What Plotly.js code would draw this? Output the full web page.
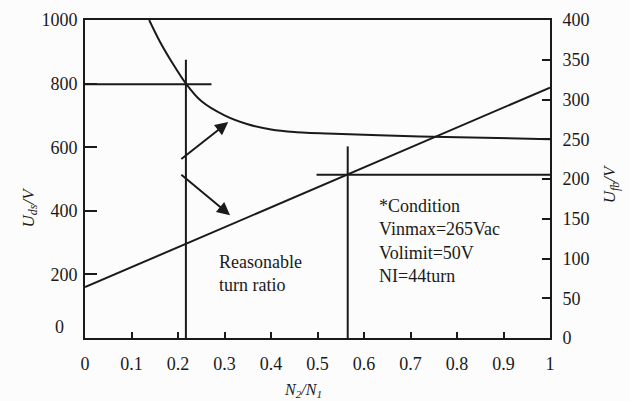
<!DOCTYPE html>
<html>
<head>
<meta charset="utf-8">
<script src="https://cdn.plot.ly/plotly-3.0.1.min.js"></script>
<style>html,body{margin:0;padding:0;background:#fcfcfc;}</style>
</head>
<body>
<div id="chart" style="width:630px;height:401px;"></div>
<script>
// Turn ratio (x) and voltages
const curveRatio = [0.138, 0.16, 0.19, 0.217, 0.25, 0.3, 0.35, 0.4, 0.45, 0.52, 0.72, 1.0];
const curveUds   = [1000, 935, 860, 800, 745, 700, 672, 656, 648, 643, 634, 625];   // left axis
const lineRatio  = [0, 1];
const lineUfb    = [64, 315];                                                  // right axis

// Reference (design point) lines
const refRatio1 = [0.217, 0.217];  const refV1 = [0, 875];      // vertical, left axis
const refHx1    = [0, 0.272];      const refHy1 = [798, 798];   // horizontal, left axis
const refRatio2 = [0.565, 0.565];  const refV2 = [0, 241];      // vertical, right axis
const refHx2    = [0.498, 1];      const refHy2 = [205.5, 205.5]; // horizontal, right axis

const xTicks = [0, 0.1, 0.2, 0.3, 0.4, 0.5, 0.6, 0.7, 0.8, 0.9, 1];
const xTickText = ['0', '0.1', '0.2', '0.3', '0.4', '0.5', '0.6', '0.7', '0.8', '0.9', '1'];
const yTicks = [0, 200, 400, 600, 800, 1000];
const yTickText = ['', '200', '400', '600', '800', '1000'];
const y2Ticks = [0, 50, 100, 150, 200, 250, 300, 350, 400];

const INK = '#1a1a1a';
const FONT = 'Liberation Serif, Times New Roman, serif';
const lineStyle = {color: INK, width: 2};

const traces = [
  {x: curveRatio, y: curveUds, mode: 'lines', line: Object.assign({shape: 'spline', smoothing: 0.8}, lineStyle), yaxis: 'y'},
  {x: lineRatio, y: lineUfb, mode: 'lines', line: lineStyle, yaxis: 'y2'},
  {x: refRatio1, y: refV1, mode: 'lines', line: lineStyle, yaxis: 'y'},
  {x: refHx1, y: refHy1, mode: 'lines', line: lineStyle, yaxis: 'y'},
  {x: refRatio2, y: refV2, mode: 'lines', line: lineStyle, yaxis: 'y2'},
  {x: refHx2, y: refHy2, mode: 'lines', line: lineStyle, yaxis: 'y2'}
];

const tickFont = {family: FONT, size: 18, color: INK};
const textFont = {family: FONT, size: 18, color: INK};

const layout = {
  width: 630, height: 401,
  margin: {l: 85, r: 80, t: 20, b: 63, pad: 0},
  paper_bgcolor: '#fcfcfc', plot_bgcolor: '#fcfcfc',
  showlegend: false,
  xaxis: {
    range: [0, 1], tickvals: xTicks, ticktext: xTickText,
    ticks: 'inside', ticklen: 6, tickwidth: 2, tickcolor: INK,
    showline: true, linecolor: INK, linewidth: 2, mirror: true,
    showgrid: false, zeroline: false, tickfont: tickFont, ticklabelstandoff: 8
  },
  yaxis: {
    range: [0, 1000], tickvals: yTicks, ticktext: yTickText,
    ticks: 'inside', ticklen: 12, tickwidth: 2, tickcolor: INK,
    showline: true, linecolor: INK, linewidth: 2,
    showgrid: false, zeroline: false, tickfont: tickFont, ticklabelstandoff: 2
  },
  yaxis2: {
    range: [0, 400], tickvals: y2Ticks, overlaying: 'y', side: 'right',
    ticks: 'inside', ticklen: 8, tickwidth: 2, tickcolor: INK,
    showline: true, linecolor: INK, linewidth: 2,
    showgrid: false, zeroline: false, tickfont: tickFont, ticklabelstandoff: 7
  },
  annotations: [
    {xref: 'paper', yref: 'paper', x: 0.628, y: 0.306, xanchor: 'left', yanchor: 'middle', align: 'left',
     showarrow: false, font: textFont,
     text: '*Condition<br>Vinmax=265Vac<br>Volimit=50V<br>NI=44turn'},
    {xref: 'paper', yref: 'paper', x: 0.283, y: 0.202, xanchor: 'left', yanchor: 'middle', align: 'left',
     showarrow: false, font: textFont, text: 'Reasonable<br>turn ratio'},
    {xref: 'paper', yref: 'paper', x: -0.054, y: 0.034, xanchor: 'center', yanchor: 'middle',
     showarrow: false, font: tickFont, text: '0'},
    {xref: 'paper', yref: 'paper', x: 0.469, y: -0.165, xanchor: 'center', yanchor: 'middle',
     showarrow: false, font: {family: FONT, size: 16, color: INK}, text: '<i>N<sub>2</sub>/N<sub>1</sub></i>'},
    {xref: 'paper', yref: 'paper', x: -0.118, y: 0.411, xanchor: 'center', yanchor: 'middle', textangle: -90,
     showarrow: false, font: {family: FONT, size: 17, color: INK}, text: '<i>U<sub>ds</sub>/V</i>'},
    {xref: 'paper', yref: 'paper', x: 1.133, y: 0.486, xanchor: 'center', yanchor: 'middle', textangle: -90,
     showarrow: false, font: {family: FONT, size: 17, color: INK}, text: '<i>U<sub>fb</sub>/V</i>'},
    // arrows pointing to the two curves
    {xref: 'x', yref: 'y', axref: 'x', ayref: 'y', x: 0.308, y: 679, ax: 0.204, ay: 559,
     text: '', showarrow: true, arrowhead: 2, arrowsize: 1.3, arrowwidth: 2, arrowcolor: INK},
    {xref: 'x', yref: 'y', axref: 'x', ayref: 'y', x: 0.312, y: 386, ax: 0.204, ay: 517,
     text: '', showarrow: true, arrowhead: 2, arrowsize: 1.3, arrowwidth: 2, arrowcolor: INK}
  ]
};

Plotly.newPlot('chart', traces, layout, {displayModeBar: false, staticPlot: true});
</script>
</body>
</html>
